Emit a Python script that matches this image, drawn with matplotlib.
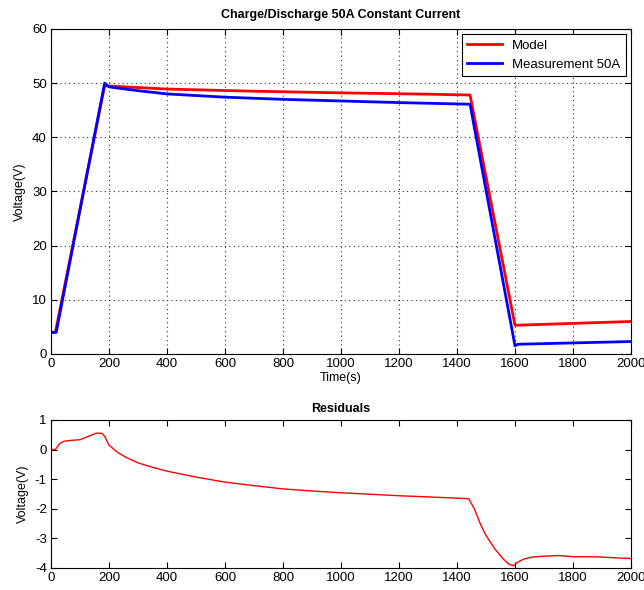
import matplotlib
matplotlib.use("Agg")
import matplotlib.pyplot as plt

plt.rcParams['font.family'] = ['Liberation Sans', 'DejaVu Sans']
plt.rcParams['axes.unicode_minus'] = False

# model (red) and measurement (blue) voltage vs time
model_t = [0, 15, 185, 400, 700, 1000, 1300, 1445, 1600, 2000]
model_v = [4.0, 4.0, 49.5, 48.9, 48.5, 48.2, 47.95, 47.8, 5.3, 6.0]
meas_t = [0, 18, 185, 200, 300, 400, 600, 800, 1000, 1200, 1445, 1600, 1610, 2000]
meas_v = [4.0, 4.0, 50.0, 49.3, 48.6, 48.0, 47.4, 47.0, 46.7, 46.4, 46.1, 1.5, 1.8, 2.3]

# residuals
res_t = [0, 15, 30, 45, 70, 100, 130, 155, 175, 185, 200, 230, 260, 300, 350, 400,
         500, 600, 700, 800, 900, 1000, 1100, 1200, 1300, 1440, 1460, 1480, 1500,
         1530, 1560, 1580, 1595, 1610, 1630, 1660, 1700, 1750, 1800, 1850, 1900, 1950, 2000]
res_v = [0.0, 0.0, 0.2, 0.28, 0.31, 0.33, 0.45, 0.55, 0.55, 0.45, 0.15, -0.1, -0.27, -0.45,
         -0.6, -0.73, -0.93, -1.1, -1.22, -1.33, -1.4, -1.46, -1.51, -1.56, -1.6, -1.66,
         -2.0, -2.5, -2.9, -3.35, -3.7, -3.88, -3.92, -3.8, -3.7, -3.63, -3.6, -3.58,
         -3.62, -3.62, -3.63, -3.66, -3.68]

fig = plt.figure(figsize=(6.44, 5.9), dpi=100)
ax1 = fig.add_axes([0.0792, 0.40, 0.9006, 0.551])
ax2 = fig.add_axes([0.0792, 0.0373, 0.9006, 0.251])

ax1.plot(model_t, model_v, color='red', lw=2, label='Model')
ax1.plot(meas_t, meas_v, color='blue', lw=2, label='Measurement 50A')
ax1.set_xlim(0, 2000)
ax1.set_ylim(0, 60)
ax1.set_xticks(range(0, 2001, 200))
ax1.set_yticks(range(0, 61, 10))
ax1.grid(True, color='#333333', linestyle=(0, (1, 3)), linewidth=0.8)
ax1.set_title('Charge/Discharge 50A Constant Current', fontsize=9, fontweight='bold', pad=8)
ax1.set_xlabel('Time(s)', fontsize=9, labelpad=1)
ax1.set_ylabel('Voltage(V)', fontsize=9)
leg = ax1.legend(loc='upper right', fontsize=9.5, fancybox=False, framealpha=1,
                 edgecolor='black', borderaxespad=0.4, handlelength=2.6)
leg.get_frame().set_linewidth(0.8)

ax2.plot(res_t, res_v, color='red', lw=1)
ax2.set_xlim(0, 2000)
ax2.set_ylim(-4, 1)
ax2.set_xticks(range(0, 2001, 200))
ax2.set_yticks(range(-4, 2))
ax2.set_title('Residuals', fontsize=9, fontweight='bold')
ax2.set_ylabel('Voltage(V)', fontsize=9)

for ax in (ax1, ax2):
    ax.tick_params(direction='in', top=True, right=True, labelsize=9.5, length=4, pad=3)
    for s in ax.spines.values():
        s.set_linewidth(0.8)

fig.savefig('out.png', dpi=100)
